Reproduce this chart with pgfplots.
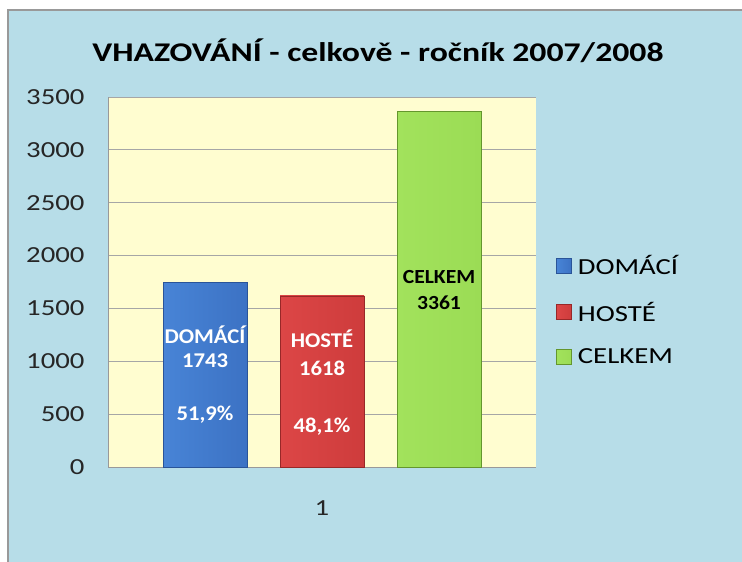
\documentclass[border=0pt]{standalone}
\usepackage{pgfplots}
\pgfplotsset{compat=1.18}
\usepackage{fontspec}
\setmainfont{Carlito}[FakeStretch=1.25]
\newfontfamily\barfont{Carlito}[FakeStretch=1.08]
\definecolor{bgblue}{RGB}{183,221,232}
\definecolor{plotyel}{RGB}{255,253,208}
\definecolor{bblue}{RGB}{60,114,196}
\definecolor{bbluelt}{RGB}{72,132,214}
\definecolor{bbluedk}{RGB}{42,84,152}
\definecolor{bred}{RGB}{206,60,60}
\definecolor{bredlt}{RGB}{220,70,70}
\definecolor{breddk}{RGB}{152,40,40}
\definecolor{bgreen}{RGB}{155,220,85}
\definecolor{bgreenlt}{RGB}{162,226,92}
\definecolor{bgreendk}{RGB}{100,150,45}
\begin{document}
\begin{tikzpicture}[x=1pt,y=1pt]
\useasboundingbox (0,0) rectangle (742,562);
\fill[white] (0,0) rectangle (742,562);
\fill[bgblue] (8,0) rectangle (742,552);
\draw[gray!80, line width=1.5pt] (8,0) -- (8,552) -- (742,552);
\node[font=\bfseries\fontsize{27}{30}\selectfont, anchor=center] at (378,511) {VHAZOVÁNÍ - celkově - ročník 2007/2008};
\begin{axis}[
  at={(108pt,95pt)}, anchor=south west,
  scale only axis, width=428pt, height=370pt,
  xmin=0.5, xmax=1.5, ymin=0, ymax=3500,
  ytick={0,500,...,3500},
  xtick={1}, xticklabels={1},
  axis background/.style={fill=plotyel},
  axis line style={gray!80, line width=0.8pt},
  axis x line*=bottom, axis y line*=left,
  ymajorgrids, grid style={gray!70, line width=0.8pt},
  major tick length=0pt,
  tick label style={font=\fontsize{23}{25}\selectfont, text=black!85},
  /pgf/number format/assume math mode=true,
  yticklabel style={xshift=-20pt},
  xticklabel style={yshift=-30pt},
  scaled y ticks=false,
  yticklabel={\pgfmathprintnumber[1000 sep={}]{\tick}},
  legend style={at={(1.047,0.424)}, anchor=west, draw=none, fill=none,
    font=\fontsize{23}{25}\selectfont, row sep=22pt, inner sep=0pt,
    nodes={inner xsep=6pt}},
  legend cell align=left,
  legend image code/.code={\draw[#1, line width=0.6pt] (0pt,-7.5pt) rectangle (15pt,7.5pt);},
  clip=false,
]
\addplot[ybar, bar width=84pt, bar shift=-117pt, left color=bbluelt, right color=bblue, draw=bbluedk, line width=0.8pt] coordinates {(1,1743)};
\addplot[ybar, bar width=84pt, bar shift=0pt, left color=bredlt, right color=bred, draw=breddk, line width=0.8pt] coordinates {(1,1618)};
\addplot[ybar, bar width=84pt, bar shift=117pt, left color=bgreenlt, right color=bgreen, draw=bgreendk, line width=0.8pt] coordinates {(1,3361)};
\legend{DOMÁCÍ, HOSTÉ, CELKEM}
\begin{scope}[every node/.style={font=\barfont\bfseries\fontsize{21}{23}\selectfont, anchor=center}]
\node[text=white, xshift=-117pt] at (axis cs:1,1249) {DOMÁCÍ};
\node[text=white, xshift=-117pt] at (axis cs:1,1003) {1743};
\node[text=white, xshift=-117pt] at (axis cs:1,492) {51,9\%};
\node[text=white] at (axis cs:1,1210) {HOSTÉ};
\node[text=white] at (axis cs:1,937) {1618};
\node[text=white] at (axis cs:1,384) {48,1\%};
\node[text=black, xshift=117pt, font=\barfont\bfseries\fontsize{20}{22}\selectfont] at (axis cs:1,1797) {CELKEM};
\node[text=black, xshift=117pt, font=\barfont\bfseries\fontsize{20}{22}\selectfont] at (axis cs:1,1551) {3361};
\end{scope}
\end{axis}
\end{tikzpicture}
\end{document}
